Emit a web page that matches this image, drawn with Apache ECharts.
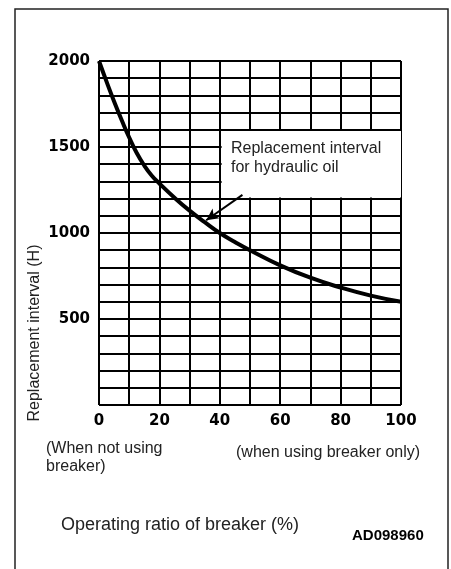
<!DOCTYPE html>
<html>
<head>
<meta charset="utf-8">
<script src="https://cdn.jsdelivr.net/npm/echarts@6/dist/echarts.min.js"></script>
<style>
  html, body { margin: 0; padding: 0; background: #fff; }
  #chart { width: 451px; height: 569px; }
</style>
</head>
<body>
<div id="chart"></div>
<script>
// Operating ratio of breaker (%) and the matching hydraulic oil replacement interval (h)
const ratioPct = [0, 2.5, 5, 7.5, 10, 12.5, 15, 17.5, 20, 25, 30, 35, 40, 45, 50, 60, 70, 80, 90, 100];
const intervalHours = [2000, 1880, 1765, 1657, 1555, 1465, 1392, 1333, 1288, 1205, 1130, 1063, 1000, 948, 900, 812, 740, 683, 636, 600];

// Labelled ticks on each axis
const xTickLabels = [0, 20, 40, 60, 80, 100];
const yTickLabels = [500, 1000, 1500, 2000];

// Callout box and its leader arrow (data coordinates)
const calloutBox = [[40.6, 1593], [101, 1207]];
const calloutArrow = [[47.5, 1222], [35.5, 1074]];

const chart = echarts.init(document.getElementById('chart'), null, { renderer: 'canvas' });

const gridLine = { show: true, lineStyle: { color: '#000', width: 2 } };
const tickFont = { color: '#000', fontFamily: 'DejaVu Sans', fontWeight: 'bold', fontSize: 15 };

chart.setOption({
  animation: false,
  backgroundColor: '#fff',
  grid: { left: 99, top: 61, width: 302, height: 344, containLabel: false },
  xAxis: {
    type: 'value', min: 0, max: 100, interval: 10,
    axisLine: { show: false }, axisTick: { show: false },
    splitLine: gridLine,
    axisLabel: Object.assign({
      margin: 9,
      formatter: v => xTickLabels.includes(v) ? String(v) : ''
    }, tickFont)
  },
  yAxis: {
    type: 'value', min: 0, max: 2000, interval: 100,
    axisLine: { show: false }, axisTick: { show: false },
    splitLine: gridLine,
    axisLabel: Object.assign({
      margin: 9,
      formatter: v => yTickLabels.includes(v) ? String(v) : ''
    }, tickFont)
  },
  series: [{
    type: 'line',
    data: ratioPct.map((x, i) => [x, intervalHours[i]]),
    smooth: 0.5,
    symbol: 'none',
    clip: false,
    lineStyle: { color: '#000', width: 4 },
    markArea: {
      silent: true,
      itemStyle: { color: '#fff', opacity: 1 },
      data: [[{ coord: calloutBox[0] }, { coord: calloutBox[1] }]]
    },
    markLine: {
      silent: true,
      symbol: ['none', 'arrow'],
      symbolSize: [9, 12],
      label: { show: false },
      lineStyle: { color: '#000', width: 2, type: 'solid' },
      data: [[{ coord: calloutArrow[0] }, { coord: calloutArrow[1] }]]
    }
  }],
  graphic: [
    { type: 'rect', shape: { x: 15, y: 9, width: 433, height: 620 },
      style: { fill: 'none', stroke: '#222', lineWidth: 1.5 }, silent: true },
    { type: 'text', x: 231, y: 139.5, z: 10,
      style: { text: 'Replacement interval\nfor hydraulic oil', font: '16px "Liberation Sans"',
               fill: '#222', lineHeight: 19, textVerticalAlign: 'top' } },
    { type: 'text', x: 35, y: 333, rotation: Math.PI / 2,
      style: { text: 'Replacement interval (H)', font: '16px "Liberation Sans"', fill: '#222',
               textAlign: 'center', textVerticalAlign: 'middle' } },
    { type: 'text', x: 46, y: 440,
      style: { text: '(When not using\nbreaker)', font: '16px "Liberation Sans"', fill: '#222',
               lineHeight: 18, textVerticalAlign: 'top' } },
    { type: 'text', x: 236, y: 444,
      style: { text: '(when using breaker only)', font: '16px "Liberation Sans"', fill: '#222',
               lineHeight: 18, textVerticalAlign: 'top' } },
    { type: 'text', x: 61, y: 515,
      style: { text: 'Operating ratio of breaker (%)', font: '18px "Liberation Sans"', fill: '#222',
               lineHeight: 20, textVerticalAlign: 'top' } },
    { type: 'text', x: 352, y: 536,
      style: { text: 'AD098960', font: 'bold 15px "Liberation Sans"', fill: '#000',
               textVerticalAlign: 'middle' } }
  ]
});
</script>
</body>
</html>
